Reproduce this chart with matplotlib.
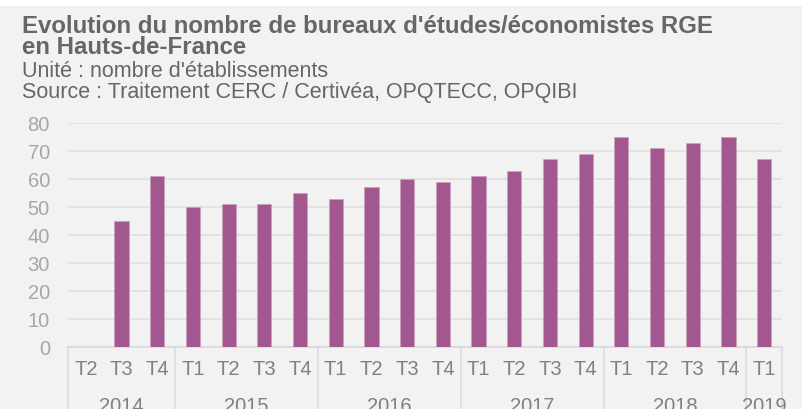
import matplotlib.pyplot as plt
import matplotlib.transforms as mtransforms
from matplotlib.patches import Rectangle

plt.rcParams['font.family'] = ['Liberation Sans', 'DejaVu Sans']

quarters = ['T2', 'T3', 'T4',
            'T1', 'T2', 'T3', 'T4',
            'T1', 'T2', 'T3', 'T4',
            'T1', 'T2', 'T3', 'T4',
            'T1', 'T2', 'T3', 'T4',
            'T1']
values = [0, 45, 61,
          50, 51, 51, 55,
          53, 57, 60, 59,
          61, 63, 67, 69,
          75, 71, 73, 75,
          67]
years = ['2014', '2015', '2016', '2017', '2018', '2019']
year_counts = [3, 4, 4, 4, 4, 1]

W, H = 802, 410
bg = '#F2F2F2'
bar_col = '#A3578F'
grid_col = '#E2E2E2'

fig = plt.figure(figsize=(W / 100, H / 100), dpi=100, facecolor=bg)
fig.patches.append(Rectangle((0, 1 - 7 / H), 1, 7 / H, transform=fig.transFigure,
                             facecolor='white', edgecolor='none'))

x0, x1, y0, y1 = 68, 782, 348, 124
ax = fig.add_axes([x0 / W, 1 - y0 / H, (x1 - x0) / W, (y0 - y1) / H])
ax.set_facecolor(bg)

pos = list(range(len(values)))
ax.bar(pos, values, width=0.4, color=bar_col, edgecolor='#C9A0BF', linewidth=0.4, zorder=3)
ax.set_xlim(-0.5, len(values) - 0.5)
ax.set_ylim(0, 80)
ax.set_yticks(range(0, 81, 10))
ax.yaxis.grid(True, color=grid_col, linewidth=1.5, zorder=0)
for s in ['top', 'right', 'left']:
    ax.spines[s].set_visible(False)
ax.spines['bottom'].set_color('#D9D9D9')
ax.spines['bottom'].set_linewidth(1.2)
ax.tick_params(axis='y', length=0, pad=13, labelsize=14.5, labelcolor='#A6A6A6')
ax.set_xticks(pos)
ax.set_xticklabels(quarters)
ax.tick_params(axis='x', length=0, pad=9, labelsize=14.5, labelcolor='#808080')

trans = mtransforms.blended_transform_factory(ax.transData, ax.transAxes)
depth = (H - y0) / (y0 - y1)
start = -0.5
bounds = [start]
for yr, n in zip(years, year_counts):
    ax.text(start + n / 2, -(397 - y0) / (y0 - y1), yr, transform=trans,
            ha='center', va='top', fontsize=14.5, color='#808080', clip_on=False)
    start += n
    bounds.append(start)
for b in bounds:
    ax.plot([b, b], [0, -depth], transform=trans, color='#DCDCDC', linewidth=1.2,
            clip_on=False, zorder=1)

title_col = '#666666'
fig.text(22 / W, 1 - 33 / H, "Evolution du nombre de bureaux d'études/économistes RGE",
         fontsize=17.3, fontweight='bold', color=title_col, va='baseline')
fig.text(22 / W, 1 - 54 / H, "en Hauts-de-France",
         fontsize=17.3, fontweight='bold', color=title_col, va='baseline')
fig.text(22 / W, 1 - 77 / H, "Unité : nombre d'établissements",
         fontsize=15.5, color=title_col, va='baseline')
fig.text(22 / W, 1 - 98 / H, "Source : Traitement CERC / Certivéa, OPQTECC, OPQIBI",
         fontsize=15.5, color=title_col, va='baseline')

fig.savefig('out.png', dpi=100, facecolor=bg)
